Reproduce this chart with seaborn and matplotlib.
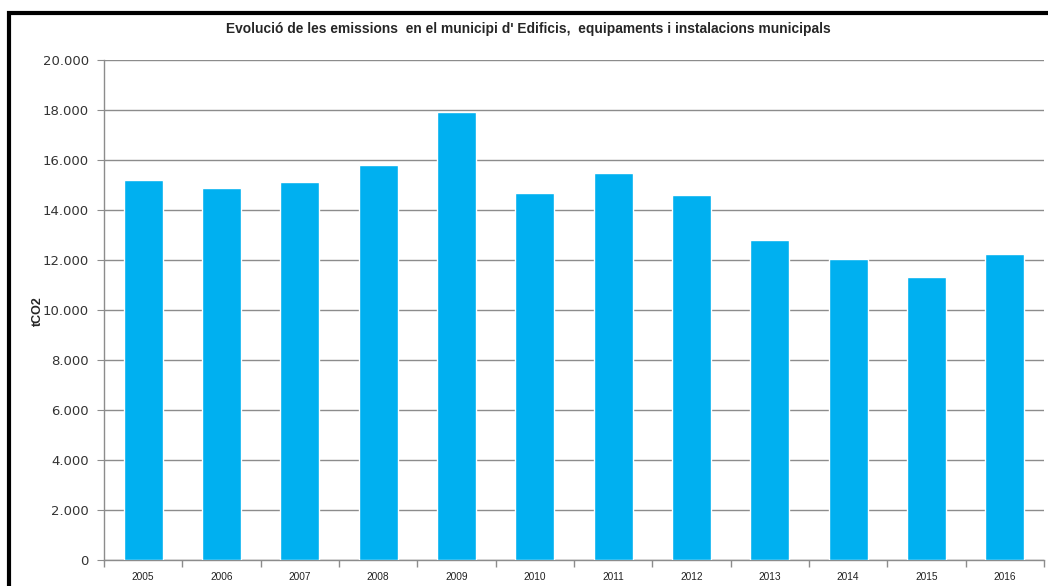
import numpy as np
import pandas as pd
import matplotlib
matplotlib.use('Agg')
import matplotlib.pyplot as plt
import matplotlib.ticker as mticker
from matplotlib.patches import Rectangle
import seaborn as sns

years = ['2005', '2006', '2007', '2008', '2009', '2010',
         '2011', '2012', '2013', '2014', '2015', '2016']
emissions = [15200, 14890, 15110, 15790, 17910, 14670,
             15490, 14590, 12800, 12030, 11330, 12250]
yticks = [0, 2000, 4000, 6000, 8000, 10000, 12000, 14000, 16000, 18000, 20000]

title = "Evolució de les emissions  en el municipi d' Edificis,  equipaments i instalacions municipals"

df = pd.DataFrame({'any': years, 'tCO2': emissions})

sns.set_style('white')
plt.rcParams['font.family'] = ['Liberation Sans', 'DejaVu Sans']

fig = plt.figure(figsize=(10.48, 5.86), dpi=100)
ax = fig.add_axes([104 / 1048, 26 / 586, 940 / 1048, 500 / 586])

sns.barplot(data=df, x='any', y='tCO2', color='#00B0F0', width=0.5,
            saturation=1, ax=ax, zorder=3)

ax.set_ylim(0, 20000)
ax.set_xlim(-0.5, len(years) - 0.5)
ax.set_yticks(yticks)
ax.yaxis.set_major_formatter(mticker.FuncFormatter(lambda v, p: f"{v:,.0f}".replace(",", ".")))
ax.grid(axis='y', color='#8c8c8c', linewidth=1, zorder=0)
ax.set_axisbelow(True)

for s in ['top', 'right']:
    ax.spines[s].set_visible(False)
for s in ['left', 'bottom']:
    ax.spines[s].set_color('#8c8c8c')
    ax.spines[s].set_linewidth(1)

ax.tick_params(axis='y', left=True, length=5, color='#8c8c8c', labelcolor='#333333', pad=6)
for lab in ax.get_yticklabels():
    lab.set_family('DejaVu Sans')
    lab.set_fontsize(9.5)
ax.tick_params(axis='x', which='major', bottom=False, labelsize=7.3, labelcolor='#222222', pad=5)
ax.set_xticks(np.arange(-0.5, len(years), 1), minor=True)
ax.tick_params(axis='x', which='minor', bottom=True, length=5, width=1, color='#8c8c8c')

ax.set_xlabel('')
ax.set_ylabel('')
fig.text(38 / 1048, 1 - 311 / 586, 'tCO2', rotation=90, ha='center', va='center',
         fontsize=9, fontweight='bold')

fig.text(528 / 1048, 1 - 29 / 586, title, ha='center', va='center',
         fontsize=9.9, fontweight='bold')

# frame around the chart (cropped on right and bottom)
fig.patches.append(Rectangle((9 / 1048, -0.1), 1.2, 1 - 13 / 586 + 0.1,
                             transform=fig.transFigure, fill=False,
                             edgecolor='black', linewidth=3))

fig.savefig('out.png', dpi=100)
